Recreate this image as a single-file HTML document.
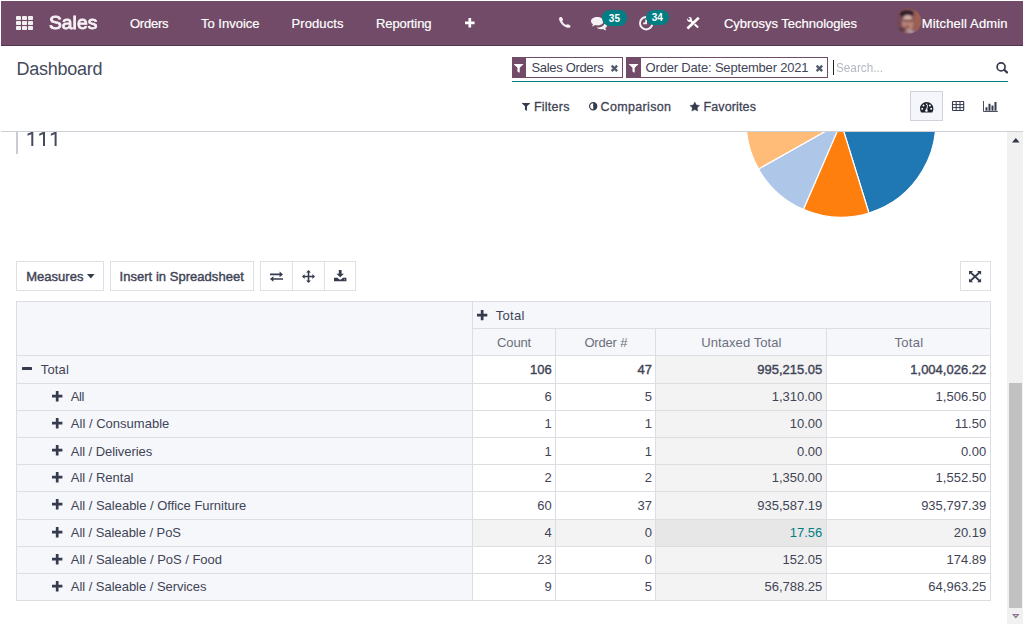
<!DOCTYPE html>
<html>
<head>
<meta charset="utf-8">
<title>Dashboard</title>
<style>
*{box-sizing:border-box;margin:0;padding:0}
html,body{width:1024px;height:625px;overflow:hidden;background:#fff}
body{font-family:"Liberation Sans",sans-serif;font-size:13px;color:#3f4456;position:relative}
.a{position:absolute}
.t{position:absolute;white-space:nowrap;line-height:1}
svg{position:absolute;overflow:visible}
</style>
</head>
<body>
<div class="a" style="left:1.00px;top:1.00px;width:1022.00px;height:45.00px;background:#714B67;border-bottom:1px solid #55364e;"></div>
<div class="a" style="left:15.80px;top:15.90px;width:5.20px;height:4.10px;background:#f1eef0;border-radius:0.8px;"></div>
<div class="a" style="left:21.90px;top:15.90px;width:5.20px;height:4.10px;background:#f1eef0;border-radius:0.8px;"></div>
<div class="a" style="left:28.00px;top:15.90px;width:5.20px;height:4.10px;background:#f1eef0;border-radius:0.8px;"></div>
<div class="a" style="left:15.80px;top:21.00px;width:5.20px;height:4.00px;background:#f1eef0;border-radius:0.8px;"></div>
<div class="a" style="left:21.90px;top:21.00px;width:5.20px;height:4.00px;background:#f1eef0;border-radius:0.8px;"></div>
<div class="a" style="left:28.00px;top:21.00px;width:5.20px;height:4.00px;background:#f1eef0;border-radius:0.8px;"></div>
<div class="a" style="left:15.80px;top:26.00px;width:5.20px;height:4.10px;background:#f1eef0;border-radius:0.8px;"></div>
<div class="a" style="left:21.90px;top:26.00px;width:5.20px;height:4.10px;background:#f1eef0;border-radius:0.8px;"></div>
<div class="a" style="left:28.00px;top:26.00px;width:5.20px;height:4.10px;background:#f1eef0;border-radius:0.8px;"></div>
<svg style="left:464.50px;top:18.20px" width="9.6" height="9.6" viewBox="0 0 9.6 9.6"><path fill="#fff" d="M3.45 0h2.7v3.45h3.45v2.7h-3.45v3.45h-2.7v-3.45h-3.45v-2.7h3.45z"/></svg>
<svg style="left:559px;top:17.3px" width="11.6" height="10.8" viewBox="0 0 116 108"><path fill="#f4f0f3" d="M8 2 C14 -2 26 -1 30 4 L40 24 C42 30 38 36 32 40 C40 58 54 72 72 80 C76 74 84 70 90 72 L110 82 C116 86 116 96 112 102 C104 110 88 110 76 106 C40 94 12 62 2 30 C-1 18 2 6 8 2Z"/></svg>
<svg style="left:591px;top:17px" width="16" height="13.4" viewBox="0 0 160 134"><path fill="#f4f0f3" d="M62 0 C98 0 124 18 124 42 C124 66 98 84 62 84 C54 84 46 83 40 81 C32 88 20 94 8 95 C14 88 18 80 19 72 C7 64 0 54 0 42 C0 18 26 0 62 0Z"/><path fill="#f4f0f3" d="M136 52 C150 60 160 70 160 84 C160 94 154 104 143 110 C144 118 148 126 154 133 C142 132 130 126 122 119 C116 121 108 122 100 122 C82 122 66 116 56 106 C58 106 60 106 62 106 C104 106 138 84 136 52Z"/></svg>
<div class="a" style="left:602.30px;top:10.00px;width:24.70px;height:16.00px;background:#017e84;border-radius:8px;"></div>
<svg style="left:639px;top:15.9px" width="14.4" height="14.4" viewBox="0 0 144 144"><circle cx="72" cy="72" r="62" fill="none" stroke="#f4f0f3" stroke-width="20"/><path fill="#f4f0f3" d="M62 34h18v48h-38v-16h20z"/></svg>
<div class="a" style="left:646.20px;top:9.80px;width:22.80px;height:15.40px;background:#017e84;border-radius:8px;"></div>
<svg style="left:686.9px;top:16.9px" width="12.2" height="12.1" viewBox="0 0 122 121"><path stroke="#fff" stroke-width="20" fill="none" d="M62 60 L112 106"/><path stroke="#714B67" stroke-width="35" fill="none" d="M10 109 L112 14"/><path stroke="#fff" stroke-width="20" fill="none" d="M34 34 L62 60"/><circle cx="25" cy="25" r="24" fill="#fff"/><circle cx="18" cy="18" r="11" fill="#714B67"/><path stroke="#714B67" stroke-width="13" d="M18 18L0 0"/><path stroke="#fff" stroke-width="26" stroke-linecap="butt" fill="none" d="M4 115 L118 8"/></svg>
<svg style="left:894.5px;top:8px" width="26.4" height="26" viewBox="0 0 264 260"><defs><clipPath id="av"><ellipse cx="132" cy="130" rx="130" ry="128"/></clipPath><filter id="bl" x="-10%" y="-10%" width="120%" height="120%"><feGaussianBlur stdDeviation="11"/></filter></defs><g clip-path="url(#av)"><rect width="264" height="260" fill="#8a5858"/><g filter="url(#bl)"><rect x="-20" y="50" width="100" height="230" fill="#74485a"/><rect x="195" y="30" width="90" height="220" fill="#a3624f"/><ellipse cx="118" cy="58" rx="72" ry="36" fill="#2a1822"/><ellipse cx="128" cy="160" rx="58" ry="88" fill="#c08b76"/><ellipse cx="128" cy="92" rx="40" ry="20" fill="#e6c2b2"/><rect x="86" y="118" width="92" height="18" fill="#6a4646"/><ellipse cx="70" cy="215" rx="40" ry="26" fill="#5e3c4a"/><ellipse cx="160" cy="238" rx="30" ry="16" fill="#aab4c8"/><ellipse cx="122" cy="190" rx="24" ry="14" fill="#96604f"/></g><rect width="264" height="260" fill="#714B67" opacity="0.12"/></g></svg>
<div class="a" style="left:1.00px;top:131.00px;width:1022.00px;height:1.00px;background:#cdd0d6;"></div>
<div class="a" style="left:512.00px;top:57.00px;width:111.00px;height:21.00px;background:#fff;border:1px solid #714B67;"></div>
<div class="a" style="left:512.00px;top:57.00px;width:14.00px;height:21.00px;background:#714B67;"></div>
<svg style="left:514.40px;top:64.4px" width="9.2" height="8.8" viewBox="0 0 90 96" preserveAspectRatio="none"><path fill="#fff" d="M2 0h86c3 0 4 3 2 5l-34 36v50c0 3-3 5-6 3l-14-10c-2-1-2-3-2-5v-38l-34-36c-2-2-1-5 2-5z"/></svg>
<svg style="left:610.90px;top:65.2px" width="6.8" height="6.8" viewBox="0 0 64 64"><path stroke="#555a6b" stroke-width="22" fill="none" d="M6 6L58 58M58 6L6 58"/></svg>
<div class="a" style="left:626.00px;top:57.00px;width:202.00px;height:21.00px;background:#fff;border:1px solid #714B67;"></div>
<div class="a" style="left:626.00px;top:57.00px;width:15.00px;height:21.00px;background:#714B67;"></div>
<svg style="left:628.90px;top:64.4px" width="9.2" height="8.8" viewBox="0 0 90 96" preserveAspectRatio="none"><path fill="#fff" d="M2 0h86c3 0 4 3 2 5l-34 36v50c0 3-3 5-6 3l-14-10c-2-1-2-3-2-5v-38l-34-36c-2-2-1-5 2-5z"/></svg>
<svg style="left:815.90px;top:65.2px" width="6.8" height="6.8" viewBox="0 0 64 64"><path stroke="#555a6b" stroke-width="22" fill="none" d="M6 6L58 58M58 6L6 58"/></svg>
<div class="a" style="left:512.00px;top:81.00px;width:496.00px;height:1.00px;background:#017e84;"></div>
<div class="a" style="left:833.00px;top:60.00px;width:1.00px;height:14.50px;background:#222;"></div>
<svg style="left:995.8px;top:61.8px" width="12.2" height="11.6" viewBox="0 0 122 116"><circle cx="51" cy="49" r="40" fill="none" stroke="#353a4d" stroke-width="17"/><path stroke="#353a4d" stroke-width="22" stroke-linecap="round" d="M82 78L110 104"/></svg>
<svg style="left:522px;top:102.9px" width="8" height="7.9" viewBox="0 0 90 96" preserveAspectRatio="none"><path fill="#353a4d" d="M2 0h86c3 0 4 3 2 5l-34 36v50c0 3-3 5-6 3l-14-10c-2-1-2-3-2-5v-38l-34-36c-2-2-1-5 2-5z"/></svg>
<svg style="left:588.6px;top:102.4px" width="8.4" height="8.4" viewBox="0 0 84 84"><circle cx="42" cy="42" r="36" fill="none" stroke="#353a4d" stroke-width="12"/><path fill="#353a4d" d="M42 6 A36 36 0 0 1 42 78z"/></svg>
<svg style="left:690.1px;top:101.5px" width="9.6" height="9.1" viewBox="0 0 100 95"><path fill="#353a4d" stroke="#353a4d" stroke-width="5" stroke-linejoin="round" d="M50 0l15.5 31.4 34.5 5-25 24.4 5.9 34.4L50 79 19.1 95.2 25 60.8 0 36.400l34.500-5z"/></svg>
<div class="a" style="left:910.00px;top:91.00px;width:33.00px;height:30.00px;background:#f5f6fb;border:1px solid #cfd2d9;"></div>
<svg style="left:920px;top:101.8px" width="13.4" height="10.4" viewBox="0 0 134 104"><path fill="#1e2230" d="M67 0C30 0 0 30 0 67c0 13 4 25 10 35 1 2 3 2 5 2h104c2 0 4 0 5-2 6-10 10-22 10-35C134 30 104 0 67 0z"/><circle cx="22" cy="68" r="10" fill="#fff"/><circle cx="35" cy="36" r="10" fill="#fff"/><circle cx="112" cy="68" r="10" fill="#fff"/><circle cx="99" cy="36" r="10" fill="#fff"/><circle cx="67" cy="22" r="8" fill="#fff"/><path fill="#fff" d="M72 30l8 2-8 44c4 3 6 8 5 13-2 7-9 11-16 9s-11-9-9-16c1-5 5-8 10-9z"/></svg>
<svg style="left:952px;top:101px" width="12.2" height="10" viewBox="0 0 122 100"><rect x="5" y="5" width="112" height="90" rx="6" fill="none" stroke="#353a4d" stroke-width="11"/><path stroke="#353a4d" stroke-width="10" fill="none" d="M4 36h114M4 66h114M42 8v88M80 8v88"/></svg>
<svg style="left:983px;top:101px" width="14.8" height="11" viewBox="0 0 148 110"><path fill="none" stroke="#353a4d" stroke-width="9" d="M5 0v105h143"/><path fill="#353a4d" d="M25 62h20v36h-20zM55 28h20v70h-20zM85 46h20v52h-20zM115 10h20v88h-20z"/></svg>
<div class="a" style="left:16.00px;top:132.00px;width:2.00px;height:22.00px;background:#c9ccd3;"></div>
<svg style="left:0;top:0" width="70" height="150" viewBox="0 0 70 150"><path fill="#454a5c" d="M31.3 132h2v13.9h-2v-11.7l-3.8 1.5v-1.9l3.8-1.8zM43.0 132h2v13.9h-2v-11.7l-3.8 1.5v-1.9l3.8-1.8zM54.6 132h2v13.9h-2v-11.7l-3.8 1.5v-1.9l3.8-1.8z"/></svg>
<svg style="left:0;top:132px" width="1007" height="100" viewBox="0 132 1007 100"><defs><clipPath id="pc"><rect x="0" y="132" width="1007" height="100"/></clipPath></defs><g clip-path="url(#pc)"><path d="M841.00 122.50L933.81 103.69A94.70 94.70 0 0 1 868.93 212.99Z" fill="#1f77b4" stroke="#fff" stroke-width="1.2" stroke-linejoin="round"/><path d="M841.00 122.50L868.93 212.99A94.70 94.70 0 0 1 803.33 209.39Z" fill="#ff7f0e" stroke="#fff" stroke-width="1.2" stroke-linejoin="round"/><path d="M841.00 122.50L803.33 209.39A94.70 94.70 0 0 1 758.49 168.97Z" fill="#aec7e8" stroke="#fff" stroke-width="1.2" stroke-linejoin="round"/><path d="M841.00 122.50L758.49 168.97A94.70 94.70 0 0 1 748.19 103.69Z" fill="#ffbb78" stroke="#fff" stroke-width="1.2" stroke-linejoin="round"/></g></svg>
<div class="a" style="left:16.00px;top:261.00px;width:88.00px;height:30.00px;background:#fff;border:1px solid #dee0e6;"></div>
<svg style="left:86.6px;top:274.1px" width="7.6" height="4.6" viewBox="0 0 74 42" preserveAspectRatio="none"><path fill="#353a4d" d="M0 0h74L37 42z"/></svg>
<div class="a" style="left:110.00px;top:261.00px;width:144.00px;height:30.00px;background:#fff;border:1px solid #dee0e6;"></div>
<div class="a" style="left:260.00px;top:261.00px;width:96.00px;height:30.00px;background:#fff;border:1px solid #dee0e6;"></div>
<div class="a" style="left:292.00px;top:261.00px;width:1.00px;height:30.00px;background:#dee0e6;"></div>
<div class="a" style="left:324.00px;top:261.00px;width:1.00px;height:30.00px;background:#dee0e6;"></div>
<svg style="left:269.5px;top:270.6px" width="13" height="11.4" viewBox="0 0 130 114"><path fill="#353a4d" d="M0 26h96V6l34 28-34 28V42H0zM130 72H34V52L0 80l34 28V88h96z" transform="scale(1,1)"/></svg>
<svg style="left:301.5px;top:269.5px" width="13" height="13" viewBox="0 0 130 130"><path fill="#353a4d" d="M65 0l24 26H73v31h31V41l26 24-26 24V73H73v31h16l-24 26-24-26h16V73H26v16L0 65l26-24v16h31V26H41z"/></svg>
<svg style="left:333.8px;top:269.8px" width="12.4" height="11.2" viewBox="0 0 124 120" preserveAspectRatio="none"><path fill="#353a4d" d="M48 0h28v40h24L62 78 24 40h24zM0 84h36l14 14c6 6 18 6 24 0l14-14h36v36H0z"/><circle cx="104" cy="104" r="5" fill="#fff"/></svg>
<div class="a" style="left:960.00px;top:261.00px;width:30.50px;height:30.00px;background:#fff;border:1px solid #dee0e6;"></div>
<svg style="left:969.1px;top:270.8px" width="12.1" height="11.2" viewBox="0 0 120 114" preserveAspectRatio="none"><path fill="#353a4d" d="M0 0h40L27 13l33 31 33-31L80 0h40v38L107 26 73 57l34 31 13-12v38H80l13-13-33-31-33 31 13 13H0V76l13 12 34-31L13 26 0 38z"/></svg>
<div class="a" style="left:16.00px;top:301.00px;width:975.00px;height:299.00px;background:#fff;"></div>
<div class="a" style="left:16.00px;top:301.00px;width:975.00px;height:54.00px;background:#f6f7fb;"></div>
<div class="a" style="left:16.00px;top:301.00px;width:456.00px;height:299.00px;background:#f6f7fb;"></div>
<div class="a" style="left:655.00px;top:355.00px;width:171.00px;height:245.00px;background:#f3f3f3;"></div>
<div class="a" style="left:472.00px;top:519.00px;width:519.00px;height:27.00px;background:#f3f3f3;"></div>
<div class="a" style="left:655.00px;top:519.00px;width:171.00px;height:27.00px;background:#e7e7e7;"></div>
<div class="a" style="left:16.00px;top:301.00px;width:975.00px;height:1.00px;background:#dddee3;"></div>
<div class="a" style="left:472.00px;top:328.00px;width:519.00px;height:1.00px;background:#dddee3;"></div>
<div class="a" style="left:16.00px;top:355.00px;width:975.00px;height:1.00px;background:#dddee3;"></div>
<div class="a" style="left:16.00px;top:383.00px;width:975.00px;height:1.00px;background:#dddee3;"></div>
<div class="a" style="left:16.00px;top:410.00px;width:975.00px;height:1.00px;background:#dddee3;"></div>
<div class="a" style="left:16.00px;top:437.00px;width:975.00px;height:1.00px;background:#dddee3;"></div>
<div class="a" style="left:16.00px;top:464.00px;width:975.00px;height:1.00px;background:#dddee3;"></div>
<div class="a" style="left:16.00px;top:491.00px;width:975.00px;height:1.00px;background:#dddee3;"></div>
<div class="a" style="left:16.00px;top:519.00px;width:975.00px;height:1.00px;background:#dddee3;"></div>
<div class="a" style="left:16.00px;top:546.00px;width:975.00px;height:1.00px;background:#dddee3;"></div>
<div class="a" style="left:16.00px;top:573.00px;width:975.00px;height:1.00px;background:#dddee3;"></div>
<div class="a" style="left:16.00px;top:600.00px;width:975.00px;height:1.00px;background:#dddee3;"></div>
<div class="a" style="left:16.00px;top:301.00px;width:1.00px;height:300.00px;background:#dddee3;"></div>
<div class="a" style="left:990.00px;top:301.00px;width:1.00px;height:300.00px;background:#dddee3;"></div>
<div class="a" style="left:472.00px;top:301.00px;width:1.00px;height:299.00px;background:#dddee3;"></div>
<div class="a" style="left:555.00px;top:328.00px;width:1.00px;height:272.00px;background:#dddee3;"></div>
<div class="a" style="left:655.00px;top:328.00px;width:1.00px;height:272.00px;background:#dddee3;"></div>
<div class="a" style="left:826.00px;top:328.00px;width:1.00px;height:272.00px;background:#dddee3;"></div>
<svg style="left:476.60px;top:310.10px" width="10.3" height="10.3" viewBox="0 0 10.3 10.3"><path fill="#353a4d" d="M3.8 0h2.7v3.8h3.8v2.7h-3.8v3.8h-2.7v-3.8h-3.8v-2.7h3.8z"/></svg>
<div class="a" style="left:22.00px;top:367.20px;width:10.40px;height:3.00px;background:#353a4d;border-radius:0.5px;"></div>
<svg style="left:52.00px;top:391.20px" width="10.4" height="10.4" viewBox="0 0 10.4 10.4"><path fill="#353a4d" d="M3.85 0h2.7v3.85h3.85v2.7h-3.85v3.85h-2.7v-3.85h-3.85v-2.7h3.85z"/></svg>
<svg style="left:52.00px;top:418.20px" width="10.4" height="10.4" viewBox="0 0 10.4 10.4"><path fill="#353a4d" d="M3.85 0h2.7v3.85h3.85v2.7h-3.85v3.85h-2.7v-3.85h-3.85v-2.7h3.85z"/></svg>
<svg style="left:52.00px;top:445.20px" width="10.4" height="10.4" viewBox="0 0 10.4 10.4"><path fill="#353a4d" d="M3.85 0h2.7v3.85h3.85v2.7h-3.85v3.85h-2.7v-3.85h-3.85v-2.7h3.85z"/></svg>
<svg style="left:52.00px;top:472.20px" width="10.4" height="10.4" viewBox="0 0 10.4 10.4"><path fill="#353a4d" d="M3.85 0h2.7v3.85h3.85v2.7h-3.85v3.85h-2.7v-3.85h-3.85v-2.7h3.85z"/></svg>
<svg style="left:52.00px;top:499.20px" width="10.4" height="10.4" viewBox="0 0 10.4 10.4"><path fill="#353a4d" d="M3.85 0h2.7v3.85h3.85v2.7h-3.85v3.85h-2.7v-3.85h-3.85v-2.7h3.85z"/></svg>
<svg style="left:52.00px;top:527.20px" width="10.4" height="10.4" viewBox="0 0 10.4 10.4"><path fill="#353a4d" d="M3.85 0h2.7v3.85h3.85v2.7h-3.85v3.85h-2.7v-3.85h-3.85v-2.7h3.85z"/></svg>
<svg style="left:52.00px;top:554.20px" width="10.4" height="10.4" viewBox="0 0 10.4 10.4"><path fill="#353a4d" d="M3.85 0h2.7v3.85h3.85v2.7h-3.85v3.85h-2.7v-3.85h-3.85v-2.7h3.85z"/></svg>
<svg style="left:52.00px;top:581.20px" width="10.4" height="10.4" viewBox="0 0 10.4 10.4"><path fill="#353a4d" d="M3.85 0h2.7v3.85h3.85v2.7h-3.85v3.85h-2.7v-3.85h-3.85v-2.7h3.85z"/></svg>
<div class="a" style="left:1007.00px;top:132.00px;width:16.00px;height:492.00px;background:#f1f1f1;"></div>
<div class="a" style="left:1009.00px;top:383.00px;width:13.00px;height:225.00px;background:#c1c1c1;"></div>
<svg style="left:1011.8px;top:138.3px" width="7.6" height="4.4" viewBox="0 0 76 44"><path fill="#33374a" d="M0 44L38 0l38 44z"/></svg>
<svg style="left:1011.8px;top:614px" width="7.6" height="4.4" viewBox="0 0 76 44"><path fill="#8a7390" d="M0 0h76L38 44z"/><path fill="#e9e6ea" d="M26 10h24L38 24z"/></svg>
<div class="t" id="t0" style="top:13.92px;font-size:18.4px;color:#f7f2f6;-webkit-text-stroke:0.85px #f7f2f6;left:49.30px;transform-origin:0 0;transform:scaleX(1.0496);">Sales</div>
<div class="t" id="t1" style="top:17.00px;font-size:13px;color:#fff;-webkit-text-stroke:0.2px #fff;left:130.00px;letter-spacing:-0.247px;">Orders</div>
<div class="t" id="t2" style="top:17.00px;font-size:13px;color:#fff;-webkit-text-stroke:0.2px #fff;left:201.00px;letter-spacing:-0.005px;">To Invoice</div>
<div class="t" id="t3" style="top:17.00px;font-size:13px;color:#fff;-webkit-text-stroke:0.2px #fff;left:291.50px;letter-spacing:0.098px;">Products</div>
<div class="t" id="t4" style="top:17.00px;font-size:13px;color:#fff;-webkit-text-stroke:0.2px #fff;left:376.00px;letter-spacing:-0.109px;">Reporting</div>
<div class="t" id="t5" style="top:17.00px;font-size:13px;color:#fff;-webkit-text-stroke:0.2px #fff;left:724.00px;letter-spacing:-0.023px;">Cybrosys Technologies</div>
<div class="t" id="t6" style="top:17.00px;font-size:13px;color:#fff;-webkit-text-stroke:0.2px #fff;left:921.80px;letter-spacing:0.145px;">Mitchell Admin</div>
<div class="t" id="t7" style="top:13.73px;font-size:10px;color:#fff;font-weight:bold;left:614.40px;width:60px;margin-left:-30px;text-align:center;">35</div>
<div class="t" id="t8" style="top:12.73px;font-size:10px;color:#fff;font-weight:bold;left:657.30px;width:60px;margin-left:-30px;text-align:center;">34</div>
<div class="t" id="t9" style="top:59.76px;font-size:18px;color:#454a5c;left:16.50px;letter-spacing:-0.258px;">Dashboard</div>
<div class="t" id="t10" style="top:60.60px;font-size:13px;color:#3f4456;left:531.40px;letter-spacing:-0.316px;">Sales Orders</div>
<div class="t" id="t11" style="top:60.60px;font-size:13px;color:#3f4456;left:645.60px;letter-spacing:-0.186px;">Order Date: September 2021</div>
<div class="t" id="t12" style="top:60.60px;font-size:13px;color:#b4b7c0;left:835.50px;transform-origin:0 0;transform:scaleX(0.9033);">Search...</div>
<div class="t" id="t13" style="top:100.72px;font-size:12.5px;color:#3f4456;-webkit-text-stroke:0.3px #3f4456;left:533.90px;letter-spacing:0.245px;">Filters</div>
<div class="t" id="t14" style="top:100.72px;font-size:12.5px;color:#3f4456;-webkit-text-stroke:0.3px #3f4456;left:600.60px;letter-spacing:0.334px;">Comparison</div>
<div class="t" id="t15" style="top:100.72px;font-size:12.5px;color:#3f4456;-webkit-text-stroke:0.3px #3f4456;left:703.50px;letter-spacing:0.124px;">Favorites</div>
<div class="t" id="t16" style="top:269.80px;font-size:13px;color:#3f4456;-webkit-text-stroke:0.4px #3f4456;left:26.20px;letter-spacing:0.017px;">Measures</div>
<div class="t" id="t17" style="top:269.80px;font-size:13px;color:#3f4456;-webkit-text-stroke:0.4px #3f4456;left:119.50px;letter-spacing:0.036px;">Insert in Spreadsheet</div>
<div class="t" id="t18" style="top:309.30px;font-size:13px;color:#3f4456;left:495.80px;letter-spacing:0.283px;">Total</div>
<div class="t" id="t19" style="top:336.30px;font-size:13px;color:#6b6f7c;left:497.05px;letter-spacing:-0.126px;">Count</div>
<div class="t" id="t20" style="top:336.30px;font-size:13px;color:#6b6f7c;left:584.40px;letter-spacing:-0.180px;">Order #</div>
<div class="t" id="t21" style="top:336.30px;font-size:13px;color:#6b6f7c;left:701.35px;letter-spacing:0.061px;">Untaxed Total</div>
<div class="t" id="t22" style="top:336.30px;font-size:13px;color:#6b6f7c;left:894.55px;letter-spacing:0.283px;">Total</div>
<div class="t" id="t23" style="top:362.80px;font-size:13px;color:#3f4456;left:40.80px;letter-spacing:0.133px;">Total</div>
<div class="t" id="t24" style="top:362.80px;font-size:13px;color:#3f4456;-webkit-text-stroke:0.4px #3f4456;right:472.20px;">106</div>
<div class="t" id="t25" style="top:362.80px;font-size:13px;color:#3f4456;-webkit-text-stroke:0.4px #3f4456;right:372.00px;">47</div>
<div class="t" id="t26" style="top:362.80px;font-size:13px;color:#3f4456;-webkit-text-stroke:0.4px #3f4456;right:201.70px;">995,215.05</div>
<div class="t" id="t27" style="top:362.80px;font-size:13px;color:#3f4456;-webkit-text-stroke:0.4px #3f4456;right:37.80px;">1,004,026.22</div>
<div class="t" id="t28" style="top:390.10px;font-size:13px;color:#3f4456;left:70.80px;letter-spacing:-0.377px;">All</div>
<div class="t" id="t29" style="top:390.10px;font-size:13px;color:#3f4456;right:472.20px;">6</div>
<div class="t" id="t30" style="top:390.10px;font-size:13px;color:#3f4456;right:372.00px;">5</div>
<div class="t" id="t31" style="top:390.10px;font-size:13px;color:#3f4456;right:201.70px;">1,310.00</div>
<div class="t" id="t32" style="top:390.10px;font-size:13px;color:#3f4456;right:37.80px;">1,506.50</div>
<div class="t" id="t33" style="top:417.10px;font-size:13px;color:#3f4456;left:70.80px;letter-spacing:0.015px;">All / Consumable</div>
<div class="t" id="t34" style="top:417.10px;font-size:13px;color:#3f4456;right:472.20px;">1</div>
<div class="t" id="t35" style="top:417.10px;font-size:13px;color:#3f4456;right:372.00px;">1</div>
<div class="t" id="t36" style="top:417.10px;font-size:13px;color:#3f4456;right:201.70px;">10.00</div>
<div class="t" id="t37" style="top:417.10px;font-size:13px;color:#3f4456;right:37.80px;">11.50</div>
<div class="t" id="t38" style="top:444.80px;font-size:13px;color:#3f4456;left:70.80px;letter-spacing:-0.064px;">All / Deliveries</div>
<div class="t" id="t39" style="top:444.80px;font-size:13px;color:#3f4456;right:472.20px;">1</div>
<div class="t" id="t40" style="top:444.80px;font-size:13px;color:#3f4456;right:372.00px;">1</div>
<div class="t" id="t41" style="top:444.80px;font-size:13px;color:#3f4456;right:201.70px;">0.00</div>
<div class="t" id="t42" style="top:444.80px;font-size:13px;color:#3f4456;right:37.80px;">0.00</div>
<div class="t" id="t43" style="top:471.40px;font-size:13px;color:#3f4456;left:70.80px;letter-spacing:-0.016px;">All / Rental</div>
<div class="t" id="t44" style="top:471.40px;font-size:13px;color:#3f4456;right:472.20px;">2</div>
<div class="t" id="t45" style="top:471.40px;font-size:13px;color:#3f4456;right:372.00px;">2</div>
<div class="t" id="t46" style="top:471.40px;font-size:13px;color:#3f4456;right:201.70px;">1,350.00</div>
<div class="t" id="t47" style="top:471.40px;font-size:13px;color:#3f4456;right:37.80px;">1,552.50</div>
<div class="t" id="t48" style="top:498.80px;font-size:13px;color:#3f4456;left:70.80px;letter-spacing:-0.018px;">All / Saleable / Office Furniture</div>
<div class="t" id="t49" style="top:498.80px;font-size:13px;color:#3f4456;right:472.20px;">60</div>
<div class="t" id="t50" style="top:498.80px;font-size:13px;color:#3f4456;right:372.00px;">37</div>
<div class="t" id="t51" style="top:498.80px;font-size:13px;color:#3f4456;right:201.70px;">935,587.19</div>
<div class="t" id="t52" style="top:498.80px;font-size:13px;color:#3f4456;right:37.80px;">935,797.39</div>
<div class="t" id="t53" style="top:526.10px;font-size:13px;color:#3f4456;left:70.80px;letter-spacing:-0.058px;">All / Saleable / PoS</div>
<div class="t" id="t54" style="top:526.10px;font-size:13px;color:#3f4456;right:472.20px;">4</div>
<div class="t" id="t55" style="top:526.10px;font-size:13px;color:#3f4456;right:372.00px;">0</div>
<div class="t" id="t56" style="top:526.10px;font-size:13px;color:#017e84;right:201.70px;">17.56</div>
<div class="t" id="t57" style="top:526.10px;font-size:13px;color:#3f4456;right:37.80px;">20.19</div>
<div class="t" id="t58" style="top:553.10px;font-size:13px;color:#3f4456;left:70.80px;letter-spacing:-0.022px;">All / Saleable / PoS / Food</div>
<div class="t" id="t59" style="top:553.10px;font-size:13px;color:#3f4456;right:472.20px;">23</div>
<div class="t" id="t60" style="top:553.10px;font-size:13px;color:#3f4456;right:372.00px;">0</div>
<div class="t" id="t61" style="top:553.10px;font-size:13px;color:#3f4456;right:201.70px;">152.05</div>
<div class="t" id="t62" style="top:553.10px;font-size:13px;color:#3f4456;right:37.80px;">174.89</div>
<div class="t" id="t63" style="top:580.10px;font-size:13px;color:#3f4456;left:70.80px;letter-spacing:-0.037px;">All / Saleable / Services</div>
<div class="t" id="t64" style="top:580.10px;font-size:13px;color:#3f4456;right:472.20px;">9</div>
<div class="t" id="t65" style="top:580.10px;font-size:13px;color:#3f4456;right:372.00px;">5</div>
<div class="t" id="t66" style="top:580.10px;font-size:13px;color:#3f4456;right:201.70px;">56,788.25</div>
<div class="t" id="t67" style="top:580.10px;font-size:13px;color:#3f4456;right:37.80px;">64,963.25</div>
</body>
</html>
